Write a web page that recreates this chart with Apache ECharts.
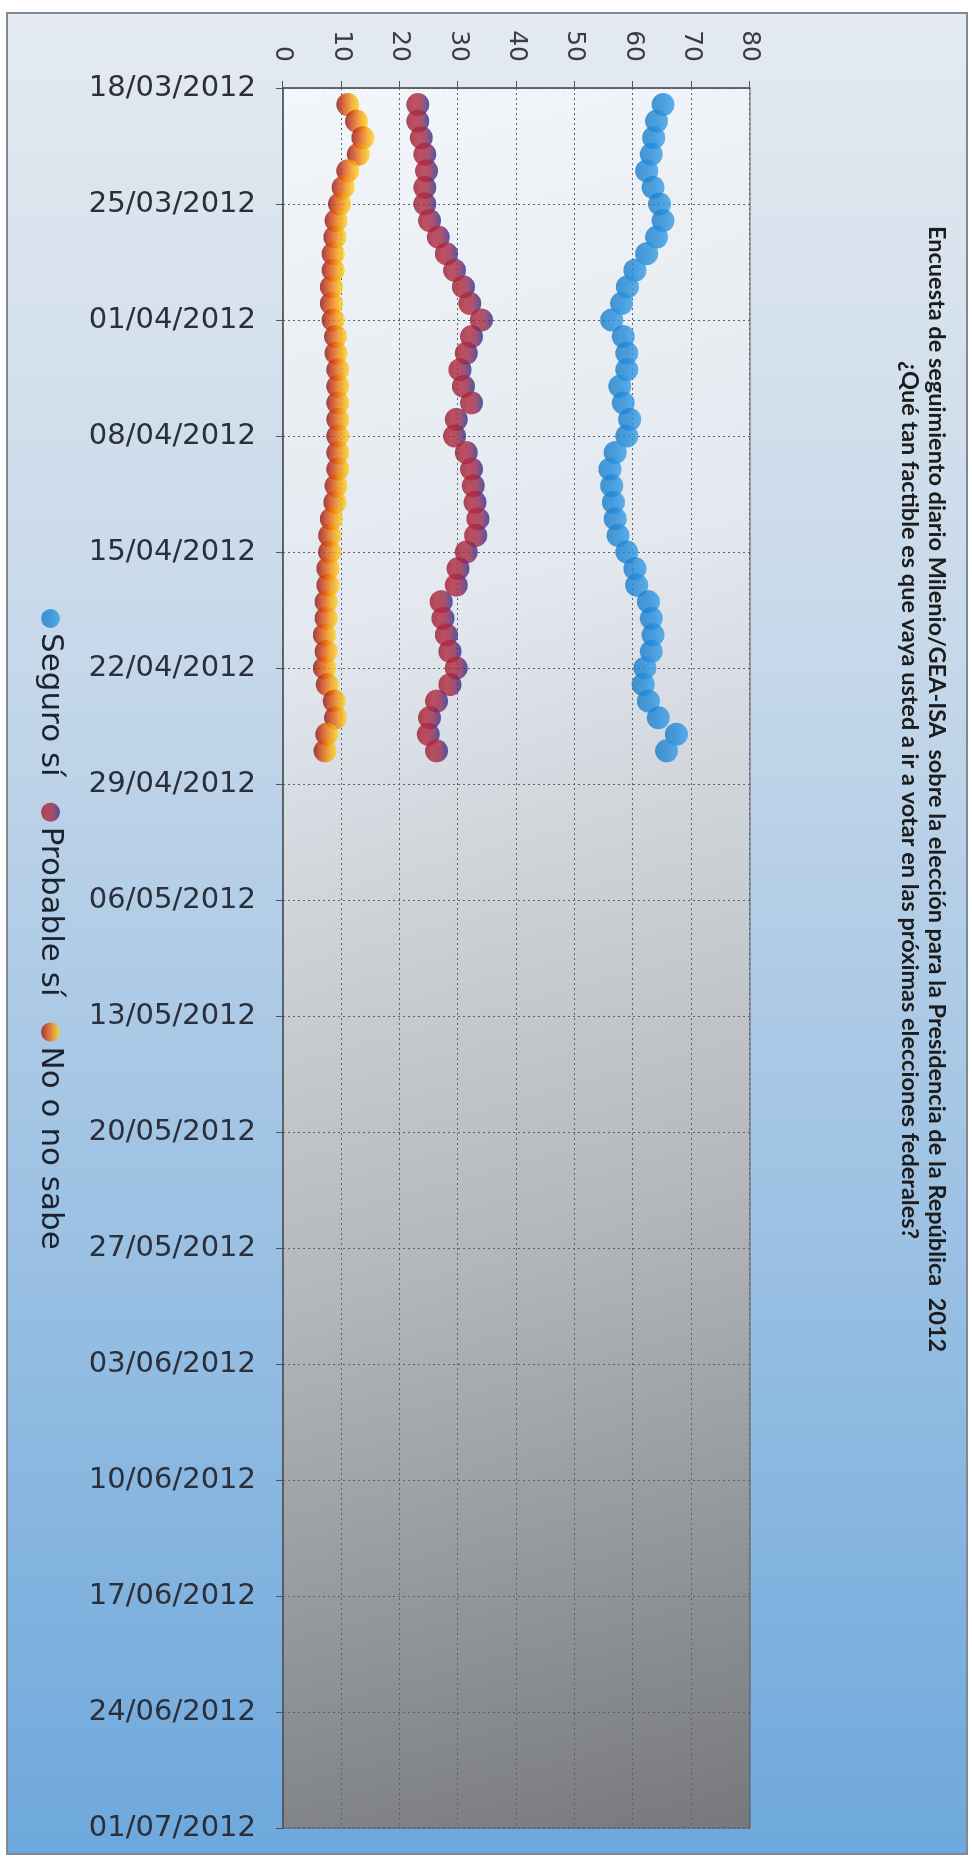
<!DOCTYPE html>
<html>
<head>
<meta charset="utf-8">
<script src="https://cdn.jsdelivr.net/npm/echarts@6/dist/echarts.min.js"></script>
<style>
  html, body { margin: 0; padding: 0; background: #fff; width: 972px; height: 1861px; overflow: hidden; }
  /* the chart is drawn landscape and turned a quarter clockwise, like the photo */
  #wrap { position: absolute; left: 0; top: 0; width: 1861px; height: 972px;
          transform-origin: 0 0; transform: translateX(972px) rotate(90deg); }
  #chart { position: absolute; left: 12px; top: 4px; width: 1839px; height: 958px;
           border: 2px solid #7d8a96; }
</style>
</head>
<body>
<div id="wrap"><div id="chart"></div></div>
<script>
var tituloLinea1 = 'Encuesta de seguimiento diario Milenio/GEA-ISA  sobre la elección para la Presidencia de la República  2012';
var tituloLinea2 = '¿Qué tan factible es que vaya usted a ir a votar en las próximas elecciones federales?';

// weekly ticks, one every 7 days from 18/03/2012
var fechasEje = ['18/03/2012', '25/03/2012', '01/04/2012', '08/04/2012', '15/04/2012', '22/04/2012',
  '29/04/2012', '06/05/2012', '13/05/2012', '20/05/2012', '27/05/2012', '03/06/2012',
  '10/06/2012', '17/06/2012', '24/06/2012', '01/07/2012'];

// daily readings, 19/03/2012 to 27/04/2012
var primerDia = 1; // days after 18/03
var seguroSi = [65.1, 64.0, 63.5, 63.1, 62.3, 63.4, 64.5, 65.1, 64.0, 62.3,
  60.3, 59.0, 58.0, 56.3, 58.3, 58.9, 58.9, 57.7, 58.3, 59.4,
  58.9, 56.9, 56.0, 56.3, 56.6, 56.9, 57.4, 58.9, 60.3, 60.6,
  62.6, 63.1, 63.4, 63.1, 62.0, 61.7, 62.6, 64.3, 67.4, 65.7];
var probableSi = [23.1, 23.1, 23.7, 24.3, 24.6, 24.3, 24.3, 25.1, 26.6, 28.0,
  29.4, 30.9, 32.0, 34.0, 32.3, 31.4, 30.3, 30.9, 32.3, 29.7,
  29.4, 31.4, 32.3, 32.6, 32.9, 33.4, 33.0, 31.4, 30.0, 29.7,
  27.1, 27.4, 28.0, 28.6, 29.7, 28.6, 26.3, 25.1, 24.9, 26.3];
var noSabe = [11.1, 12.6, 13.7, 12.9, 11.1, 10.3, 9.7, 9.1, 8.9, 8.6,
  8.6, 8.3, 8.3, 8.6, 9.0, 9.1, 9.4, 9.4, 9.4, 9.4,
  9.4, 9.4, 9.4, 9.1, 8.9, 8.3, 8.0, 8.0, 7.7, 7.7,
  7.4, 7.4, 7.1, 7.4, 7.1, 7.6, 8.8, 9.0, 7.5, 7.2];

var nombres = ['Seguro sí', 'Probable sí', 'No o no sabe'];
var valoresEje = [0, 80, 10];

function puntos(arr) {
  return arr.map(function (v, i) { return [primerDia + i, v]; });
}
function grad(stops) {
  return new echarts.graphic.LinearGradient(0, 0, 0, 1, stops.map(function (c, i) {
    return { offset: i / (stops.length - 1), color: c };
  }));
}

var colores = [
  grad(['#3a9fe8', '#238ad8', '#1a7cc9']),
  grad(['#2b2f92', '#9a2a4e', '#b3283c', '#961d30']),
  grad(['#ffd81a', '#f49a12', '#d94a14', '#8a1414'])
];

var chart = echarts.init(document.getElementById('chart'));
var dotted = { type: [2, 3], color: '#5e6166', width: 1 };

chart.setOption({
  backgroundColor: new echarts.graphic.LinearGradient(0, 0, 1, 0, [
    { offset: 0, color: '#e4eaf0' },
    { offset: 0.35, color: '#c6d8ea' },
    { offset: 1, color: '#6ea8dc' }
  ]),
  title: [
    { text: tituloLinea1, left: 207, top: 12,
      textStyle: { fontFamily: 'Lato', fontWeight: 'bold', fontSize: 23.5, color: '#1c1c1c' } },
    { text: tituloLinea2, left: 342, top: 39,
      textStyle: { fontFamily: 'Lato', fontWeight: 'bold', fontSize: 23.5, color: '#1c1c1c' } }
  ],
  legend: {
    data: nombres, left: 590, top: 895, icon: 'circle', itemWidth: 19, itemHeight: 19, itemGap: 26,
    textStyle: { fontFamily: 'DejaVu Sans', fontSize: 31, color: '#1c2230' }
  },
  grid: {
    left: 74, right: 25, top: 216, bottom: 275, show: true,
    borderColor: '#5a5f66', borderWidth: 1,
    backgroundColor: new echarts.graphic.LinearGradient(0, 1, 1, 0, [
      { offset: 0, color: '#f3f6fa' },
      { offset: 0.3, color: '#e2e8ee' },
      { offset: 0.65, color: '#b4b8bc' },
      { offset: 1, color: '#76787c' }
    ])
  },
  xAxis: {
    type: 'value', min: 0, max: (fechasEje.length - 1) * 7, interval: 7,
    axisLine: { show: true, lineStyle: { color: '#4e545c', width: 1.5 } },
    axisTick: { show: true, length: 7, lineStyle: { color: '#4e545c' } },
    axisLabel: {
      rotate: 90, margin: 27, fontFamily: 'DejaVu Sans', fontSize: 29, color: '#2b2f3a',
      formatter: function (v) { return fechasEje[Math.round(v / 7)] || ''; }
    },
    splitLine: { show: true, lineStyle: dotted }
  },
  yAxis: {
    type: 'value', min: valoresEje[0], max: valoresEje[1], interval: valoresEje[2],
    axisLine: { show: true, lineStyle: { color: '#4e545c', width: 1.5 } },
    axisTick: { show: true, length: 7, lineStyle: { color: '#4e545c' } },
    axisLabel: { margin: 26, fontFamily: 'DejaVu Sans', fontSize: 25, color: '#3a3d44' },
    splitLine: { show: true, lineStyle: dotted }
  },
  series: [seguroSi, probableSi, noSabe].map(function (arr, k) {
    return {
      name: nombres[k], type: 'scatter', data: puntos(arr), symbol: 'circle', symbolSize: 23,
      itemStyle: { color: colores[k] }
    };
  })
});
</script>
</body>
</html>
